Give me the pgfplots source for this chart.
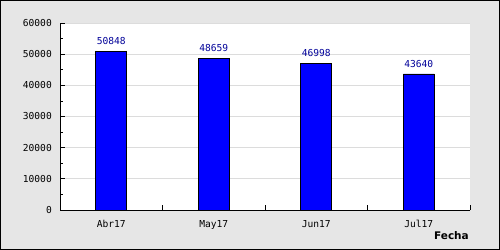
\documentclass[border=0pt]{standalone}
\usepackage{pgfplots}
\pgfplotsset{compat=1.18}
\usepackage{fontspec}
\setmainfont{DejaVu Sans}
\newfontfamily\monofont{DejaVu Sans Mono}
\definecolor{bggray}{HTML}{E6E6E6}
\definecolor{gridgray}{HTML}{DCDCDC}
\definecolor{barblue}{HTML}{0000FF}
\definecolor{lblblue}{HTML}{000099}
\begin{document}
\begin{tikzpicture}
\useasboundingbox (0,0) rectangle (500bp,250bp);
\fill[bggray] (0,0) rectangle (500bp,250bp);
\draw[black, line width=1bp] (0.5bp,0.5bp) rectangle (499.5bp,249.5bp);
\begin{axis}[
  at={(60bp,40bp)}, anchor=south west,
  scale only axis, width=410bp, height=187bp,
  axis background/.style={fill=white},
  axis x line*=bottom, axis y line*=left,
  axis line style={-, black, line width=0.8bp},
  xmin=-0.5, xmax=3.5, ymin=0, ymax=60000,
  xtick={0.5,1.5,2.5,3.5}, xticklabels={},
  extra x ticks={0,1,2,3},
  extra x tick labels={Abr17,May17,Jun17,Jul17},
  extra x tick style={major tick length=0pt, tick style={draw=none}, grid=none},
  ytick={0,10000,...,60000},
  minor y tick num=1,
  tick align=inside,
  major tick length=5bp, minor tick length=3bp,
  tick style={black, line width=0.8bp},
  ymajorgrids, grid style={gridgray, line width=0.8bp},
  scaled y ticks=false,
  /pgf/number format/assume math mode=true,
  yticklabel={\pgfmathprintnumber[fixed, precision=0, 1000 sep={}]{\tick}},
  yticklabel style={font=\monofont\fontsize{9.6bp}{11bp}\selectfont, inner sep=0pt, anchor=east, xshift=-8bp},
  xticklabel style={font=\monofont\fontsize{9.6bp}{11bp}\selectfont, inner sep=0pt, anchor=north, yshift=-10bp},
  xlabel={Fecha},
  xlabel style={at={(rel axis cs:1,0)}, anchor=north east, inner sep=0pt, yshift=-21bp, xshift=-1bp, font=\bfseries\fontsize{10.5bp}{12bp}\selectfont},
  nodes near coords,
  point meta=explicit symbolic,
  nodes near coords style={font=\monofont\fontsize{9.6bp}{11bp}\selectfont, text=lblblue, inner sep=0pt, anchor=south, yshift=6bp},
  clip=false,
]
\addplot[ybar, bar width=31bp, fill=barblue, draw=black, line width=0.8bp]
  coordinates {(0,50848) [50848] (1,48659) [48659] (2,46998) [46998] (3,43640) [43640]};
\end{axis}
\end{tikzpicture}
\end{document}
